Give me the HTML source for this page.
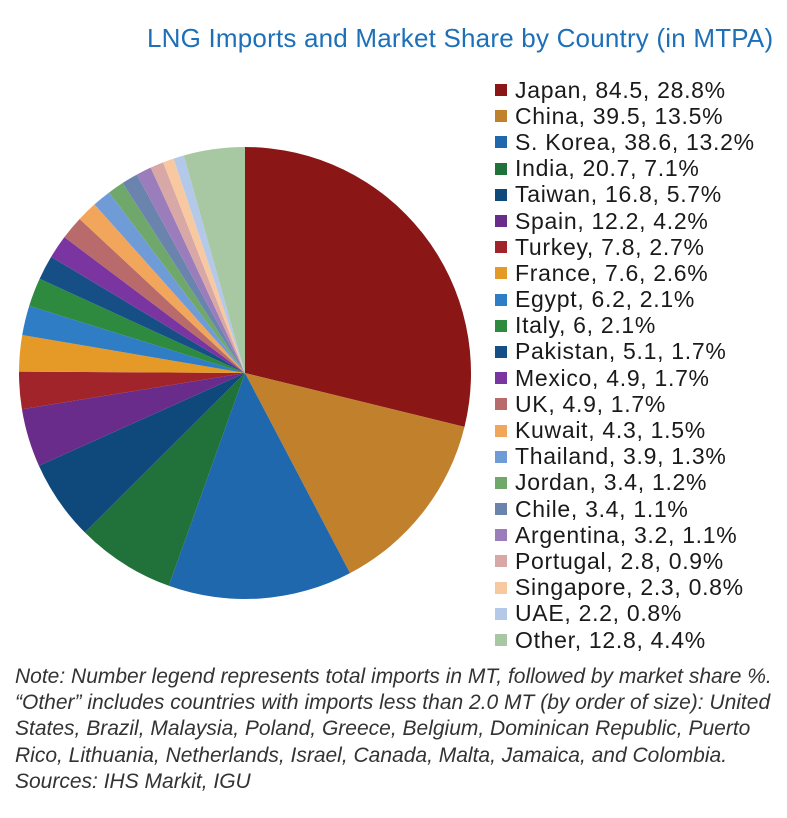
<!DOCTYPE html>
<html><head><meta charset="utf-8"><style>
body{margin:0;width:787px;height:818px;background:#fff;overflow:hidden;position:relative;font-family:"Liberation Sans",Arial,sans-serif}
.title{position:absolute;left:147px;top:22px;font-size:26px;letter-spacing:0.2px;color:#1d70b8;white-space:nowrap;line-height:32px}
.leg{position:absolute;left:495px;top:77px}
.row{height:26.2px;display:flex;align-items:center;font-size:23px;letter-spacing:0.7px;color:#1a1a1a;white-space:nowrap}
.sw{width:12px;height:12px;margin-right:8px}
.note{position:absolute;left:15px;top:664px;font-size:21px;font-style:italic;color:#333;line-height:26.2px;white-space:nowrap}
</style></head><body>
<div class="title">LNG Imports and Market Share by Country (in MTPA)</div>
<svg id="pie" width="787" height="818" style="position:absolute;left:0;top:0"></svg>
<div class="leg" id="leg"></div>
<div class="note">Note: Number legend represents total imports in MT, followed by market share %.<br>“Other” includes countries with imports less than 2.0 MT (by order of size): United<br>States, Brazil, Malaysia, Poland, Greece, Belgium, Dominican Republic, Puerto<br>Rico, Lithuania, Netherlands, Israel, Canada, Malta, Jamaica, and Colombia.<br>Sources: IHS Markit, IGU</div>
<script>
var d=[["Japan",84.5,"28.8%","#8a1616"],["China",39.5,"13.5%","#c0802c"],["S. Korea",38.6,"13.2%","#1f68ad"],["India",20.7,"7.1%","#21723a"],["Taiwan",16.8,"5.7%","#0f497c"],["Spain",12.2,"4.2%","#6a2c8a"],["Turkey",7.8,"2.7%","#a0242a"],["France",7.6,"2.6%","#e59a27"],["Egypt",6.2,"2.1%","#2f7dc4"],["Italy",6,"2.1%","#2d8a3e"],["Pakistan",5.1,"1.7%","#164f86"],["Mexico",4.9,"1.7%","#7a35a0"],["UK",4.9,"1.7%","#b96a6a"],["Kuwait",4.3,"1.5%","#f2a65c"],["Thailand",3.9,"1.3%","#6f9bd6"],["Jordan",3.4,"1.2%","#6fa86a"],["Chile",3.4,"1.1%","#6a84ae"],["Argentina",3.2,"1.1%","#9b7dbc"],["Portugal",2.8,"0.9%","#d8a8a6"],["Singapore",2.3,"0.8%","#f8c9a0"],["UAE",2.2,"0.8%","#b4c8ea"],["Other",12.8,"4.4%","#a8c8a4"]];
var tot=0;d.forEach(function(r){tot+=r[1]});
var cx=245,cy=373,R=226,a=0,s="",l="";
d.forEach(function(r){var b=a+r[1]/tot*2*Math.PI;
var x1=cx+R*Math.sin(a),y1=cy-R*Math.cos(a),x2=cx+R*Math.sin(b),y2=cy-R*Math.cos(b);
s+='<path d="M'+cx+' '+cy+'L'+x1+' '+y1+'A'+R+' '+R+' 0 '+((b-a)>Math.PI?1:0)+' 1 '+x2+' '+y2+'Z" fill="'+r[3]+'"/>';a=b;
var v=String(r[1]);l+='<div class="row"><div class="sw" style="background:'+r[3]+'"></div>'+r[0]+', '+v+', '+r[2]+'</div>';});
document.getElementById("pie").innerHTML=s;document.getElementById("leg").innerHTML=l;
</script>
</body></html>
